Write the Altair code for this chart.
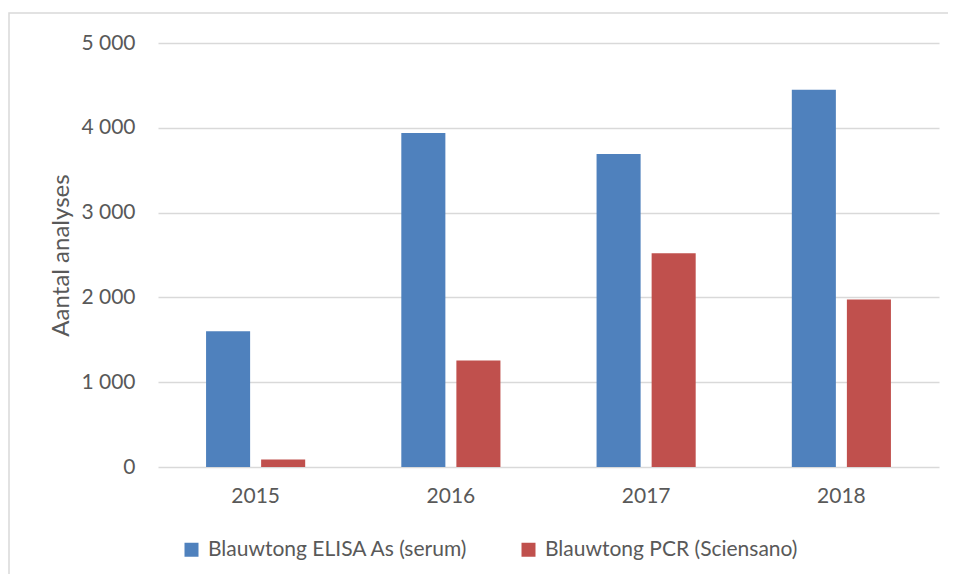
import altair as alt
import pandas as pd

years = ["2015", "2016", "2017", "2018"]
series = ["Blauwtong ELISA As (serum)", "Blauwtong PCR (Sciensano)"]
elisa = [1600, 3940, 3690, 4450]
pcr = [87, 1255, 2520, 1975]
colors = ["#4F81BD", "#C0504D"]
y_ticks = [0, 1000, 2000, 3000, 4000, 5000]

rows = []
for i, y in enumerate(years):
    rows.append({"jaar": y, "reeks": series[0], "aantal": elisa[i]})
    rows.append({"jaar": y, "reeks": series[1], "aantal": pcr[i]})
df = pd.DataFrame(rows)

FONT = "Lato"
TXT = "#595959"
GRID = "#d9d9d9"

bars = alt.Chart(df).mark_bar().encode(
    x=alt.X("jaar:N", sort=years,
            scale=alt.Scale(paddingInner=0, paddingOuter=0),
            axis=alt.Axis(title=None, labelAngle=0, domain=False, ticks=False,
                          grid=False, labelFont=FONT, labelFontSize=21,
                          labelColor=TXT, labelPadding=18)),
    xOffset=alt.XOffset("reeks:N", sort=series,
                        scale=alt.Scale(paddingInner=0.2, paddingOuter=0.8727)),
    y=alt.Y("aantal:Q",
            scale=alt.Scale(domain=[0, 5000], nice=False),
            axis=alt.Axis(title="Aantal analyses", values=y_ticks,
                          labelExpr="replace(format(datum.value, ','), ',', ' ')",
                          domain=False, ticks=False, grid=True,
                          gridColor=GRID, gridWidth=1.5,
                          labelFont=FONT, labelFontSize=21, labelColor=TXT,
                          labelPadding=23,
                          titleFont=FONT, titleFontSize=24, titleFontWeight="normal",
                          titleColor=TXT, titleX=-97, titleY=212, titleAngle=270,
                          titleAlign="center", titleBaseline="middle")),
    color=alt.Color("reeks:N", sort=series,
                    scale=alt.Scale(domain=series, range=colors),
                    legend=alt.Legend(title=None, orient="none", legendX=23,
                                      legendY=496, direction="horizontal",
                                      symbolType="square", symbolSize=196,
                                      symbolStrokeWidth=0, labelFont=FONT,
                                      labelFontSize=21, labelColor=TXT,
                                      labelOffset=6, labelLimit=600,
                                      columnPadding=50, padding=0)),
)

border = alt.Chart(alt.Data(values=[{}])).mark_rect(
    fill=None, stroke=GRID, strokeWidth=1.5, clip=False
).encode(
    x=alt.value(-149), x2=alt.value(1000),
    y=alt.value(-30), y2=alt.value(700),
)

chart = alt.layer(border, bars).properties(
    width=781, height=424,
    autosize=alt.AutoSizeParams(type="none"),
    padding={"left": 150, "top": 35, "right": 9, "bottom": 107},
).configure_view(stroke=None)

chart.save("out.html", embed_options={"renderer": "svg", "actions": False})
